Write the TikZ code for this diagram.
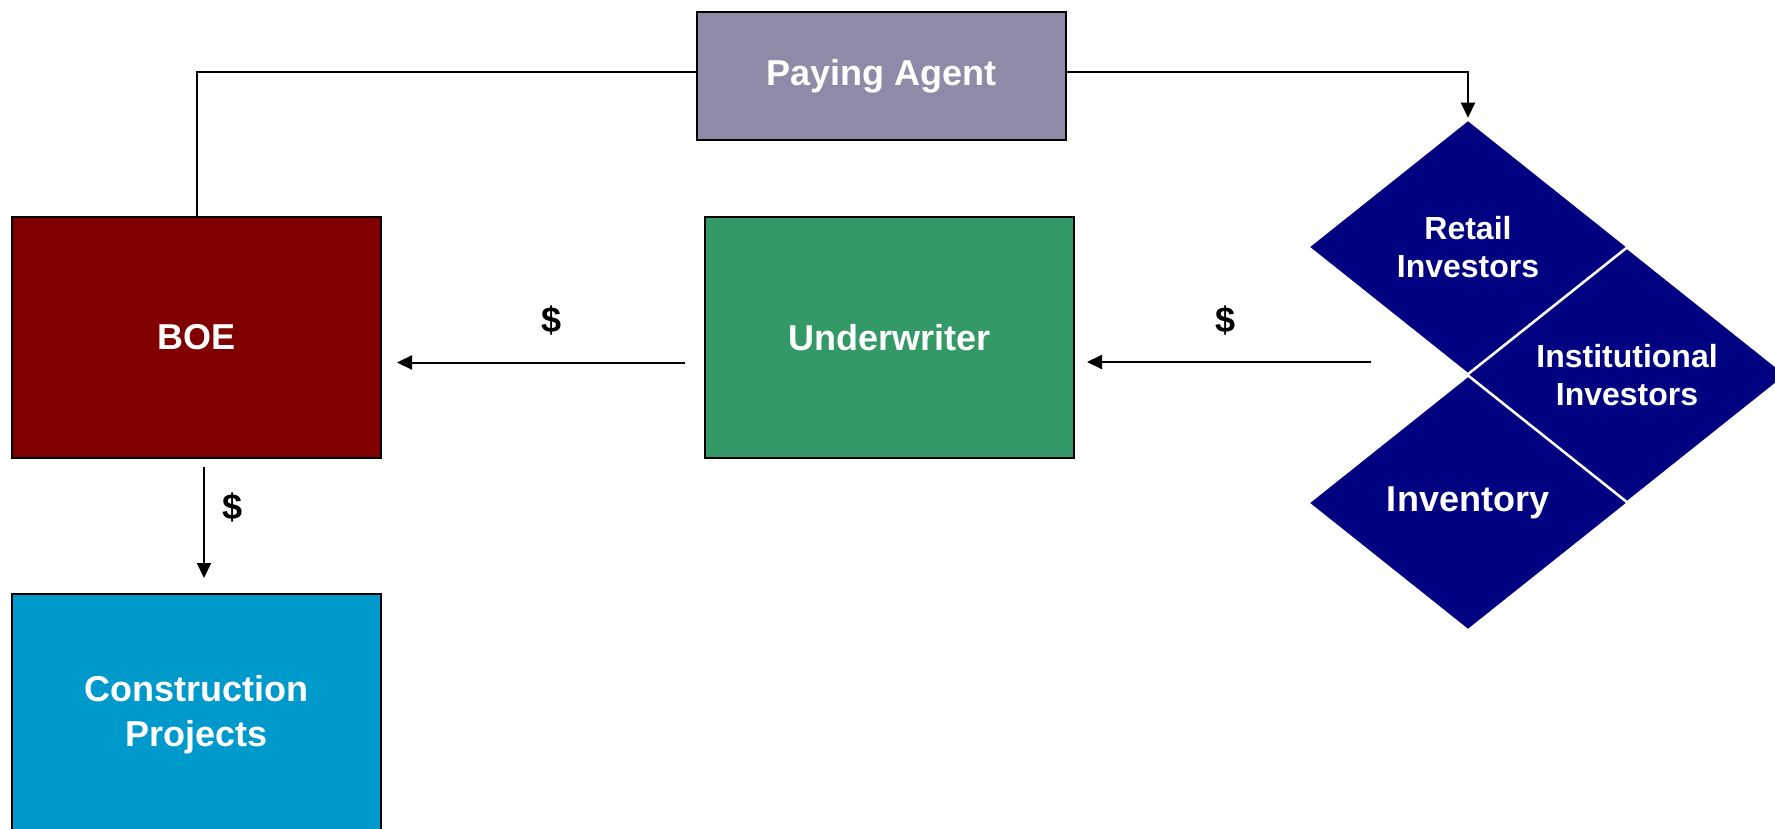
\documentclass[tikz,border=0pt]{standalone}
\usepackage{fontspec}
\setmainfont{Liberation Sans}
\usepackage{tikz}
\usetikzlibrary{shapes.geometric, arrows.meta, positioning, calc}
\definecolor{boered}{HTML}{800000}
\definecolor{uwgreen}{HTML}{339966}
\definecolor{buildblue}{HTML}{0099CC}
\definecolor{paygray}{HTML}{8F8AA7}
\definecolor{investblue}{HTML}{000080}

\begin{document}
\begin{tikzpicture}[x=1pt, y=-1pt,
        box/.style={draw=black, line width=2pt, minimum width=369pt, minimum height=241pt, inner sep=0pt, align=center, text=white, font=\fontsize{36}{45}\selectfont\bfseries},
        invest/.style={diamond, draw=white, line width=2.5pt, fill=investblue, minimum width=321pt, minimum height=256pt, inner sep=0pt, align=center, text=white, font=\fontsize{32}{38}\selectfont\bfseries},
        arrow/.style={-{Triangle[length=15pt,width=14pt]}, line width=2pt},
        link/.style={line width=2pt},
        money/.style={font=\fontsize{36}{36}\selectfont\bfseries}
    ]
        \useasboundingbox (0,0) rectangle (1775,829);

        \node (boe) [box, fill=boered] at (196.5,337.5) {BOE};
        \node (uw) [box, fill=uwgreen, right=322pt of boe] {Underwriter};
        \node (build) [box, fill=buildblue, below=134pt of boe] {Construction\\Projects};
        \node (pay) [box, fill=paygray, minimum height=128pt] at (881.5,76) {Paying Agent};

        % investor diamonds
        \node (retail) [invest] at (1468,247) {Retail\\Investors};
        \node (inst) [invest] at (1627,375) {Institutional\\Investors};
        \node (inv) [invest, font=\fontsize{36}{42}\selectfont\bfseries] at (1468,503) {Inventory};

        \draw [link] (boe.north) |- ([yshift=4pt]pay.west);
        \draw [arrow] ([yshift=4pt]pay.east) -| (retail.north);
        \draw [arrow, shorten <=94pt, shorten >=12pt] ([yshift=13pt]inst.west) -- ([yshift=13pt]inst.west -| uw.east);
        \draw [arrow, shorten <=19pt, shorten >=15pt] ([yshift=-25pt]uw.west) -- ([yshift=-25pt]boe.east);
        \draw [arrow, shorten <=8pt, shorten >=15pt] ([xshift=7.5pt]boe.south) -- ([xshift=7.5pt]build.north);

        \node (paid1) [money] at (552,320) {\$};
        \node (paid2) [money] at (1225,320) {\$};
        \node (paid3) [money] at (233,507) {\$};
    \end{tikzpicture}
\end{document}
